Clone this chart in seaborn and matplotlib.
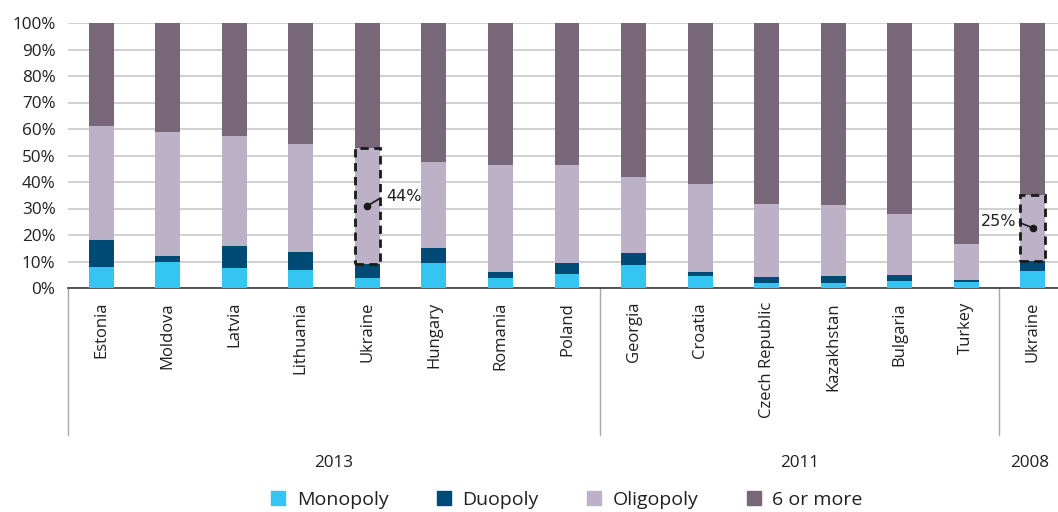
import numpy as np
import pandas as pd
import matplotlib
matplotlib.use("Agg")
import matplotlib.pyplot as plt
import seaborn as sns
from matplotlib.patches import Rectangle
from matplotlib.lines import Line2D
import matplotlib.transforms as mtransforms

countries = ["Estonia", "Moldova", "Latvia", "Lithuania", "Ukraine", "Hungary", "Romania", "Poland",
             "Georgia", "Croatia", "Czech Republic", "Kazakhstan", "Bulgaria", "Turkey", "Ukraine"]
years = ["2013"] * 8 + ["2011"] * 6 + ["2008"]
monopoly = [8, 10, 7.5, 6.8, 3.8, 9.4, 3.6, 5.3, 8.7, 4.5, 1.9, 1.9, 2.6, 2.3, 6.4]
duopoly = [10, 2, 8.3, 6.8, 5.2, 5.7, 2.6, 4.1, 4.5, 1.5, 2.3, 2.6, 2.3, 0.7, 3.8]
oligopoly = [43, 47, 41.6, 40.7, 44, 32.4, 40.2, 37, 28.7, 33.2, 27.5, 26.8, 23, 13.6, 25]
six_or_more = [39, 41, 42.6, 45.7, 47, 52.5, 53.6, 53.6, 58.1, 60.8, 68.3, 68.7, 72.1, 83.4, 64.8]
series_names = ["Monopoly", "Duopoly", "Oligopoly", "6 or more"]
group_labels = ["2013", "2011", "2008"]
annotated = {4: "44%", 14: "25%"}

colors = ["#34C5F3", "#004A76", "#BDB1C7", "#786679"]
text_color = "#231F20"

ids = [f"{c}_{i}" for i, c in enumerate(countries)]
df = pd.DataFrame({"id": ids, "mono": monopoly, "duo": duopoly, "oligo": oligopoly, "six": six_or_more})
df["c1"] = df["mono"]
df["c2"] = df["c1"] + df["duo"]
df["c3"] = df["c2"] + df["oligo"]
df["c4"] = df["c3"] + df["six"]

sns.set_style("white")
plt.rcParams["font.family"] = ["Open Sans", "DejaVu Sans"]

fig = plt.figure(figsize=(10.58, 5.12), dpi=100)
ax = fig.add_axes([68 / 1058, 1 - 288 / 512, (1058 - 68) / 1058, (288 - 23) / 512])

W = 0.375
for col, colr in zip(["c4", "c3", "c2", "c1"], colors[::-1]):
    sns.barplot(data=df, x="id", y=col, order=ids, color=colr, width=W,
                saturation=1, ax=ax, edgecolor="none", linewidth=0, zorder=3)

ax.set_xlim(-0.5, 14.38)
ax.set_ylim(0, 100)
ax.set_yticks(np.arange(0, 101, 10))
ax.set_yticklabels([f"{v}%" for v in range(0, 101, 10)], fontsize=12.3, color=text_color)
ax.yaxis.grid(True, color="#C4C4C4", linewidth=1.1, zorder=0)
ax.set_axisbelow(True)
ax.tick_params(axis="y", length=0, pad=9)
ax.set_xticks(range(len(countries)))
ax.set_xticklabels(countries, rotation=90, fontsize=12, color=text_color, va="top")
ax.tick_params(axis="x", length=0, pad=10)
ax.set_xlabel("")
ax.set_ylabel("")
for s in ["left", "right", "top"]:
    ax.spines[s].set_visible(False)
ax.spines["bottom"].set_color("#3A3A3A")
ax.spines["bottom"].set_linewidth(1.2)

# annotations: dashed box around oligopoly segment
for i, lab in annotated.items():
    y0 = df.loc[i, "c2"]
    h = df.loc[i, "oligo"]
    rect = Rectangle((i - W / 2, y0), W, h, fill=False, edgecolor="#1A1A1A",
                     linestyle=(0, (3, 2)), linewidth=2, zorder=5)
    ax.add_patch(rect)
    yd = y0 + h * 0.5
    if i == 4:
        ax.plot([i, i + 0.2], [yd, yd + 3], color="#1A1A1A", lw=1.2, zorder=6)
        ax.plot([i], [yd], marker="o", ms=4.5, color="#1A1A1A", zorder=6)
        ax.text(i + 0.28, yd + 3.5, lab, fontsize=11.5, color=text_color, va="center", ha="left",
                family=["Liberation Sans Narrow", "DejaVu Sans"], zorder=6)
    else:
        ax.plot([i, i - 0.2], [yd, yd + 2], color="#1A1A1A", lw=1.2, zorder=6)
        ax.plot([i], [yd], marker="o", ms=4.5, color="#1A1A1A", zorder=6)
        ax.text(i - 0.25, yd + 2.5, lab, fontsize=11.5, color=text_color, va="center", ha="right",
                family=["Liberation Sans Narrow", "DejaVu Sans"], zorder=6)

# group separators and labels
trans = mtransforms.blended_transform_factory(ax.transData, ax.transAxes)
ybot = -(435 - 288) / 265
for xs in [-0.5, 7.5, 13.5]:
    ax.plot([xs, xs], [0, ybot], transform=trans, color="#A8A8A8", lw=1, clip_on=False)
ylab = -(463 - 288) / 265
for lab, xc in zip(group_labels, [3.5, 10.5, 13.95]):
    ax.text(xc, ylab, lab, transform=trans, ha="center", va="center", fontsize=12.3, color=text_color)

handles = [Line2D([0], [0], marker="s", linestyle="none", markersize=10, markerfacecolor=c,
                  markeredgecolor=c) for c in colors]
fig.legend(handles, series_names, loc="center", bbox_to_anchor=(567 / 1058, 1 - 500 / 512), ncol=4,
           frameon=False, fontsize=14, handlelength=0.7, handletextpad=0.6, columnspacing=2.5,
           labelcolor=text_color, borderpad=0.1)

fig.savefig("out.png", dpi=100)
